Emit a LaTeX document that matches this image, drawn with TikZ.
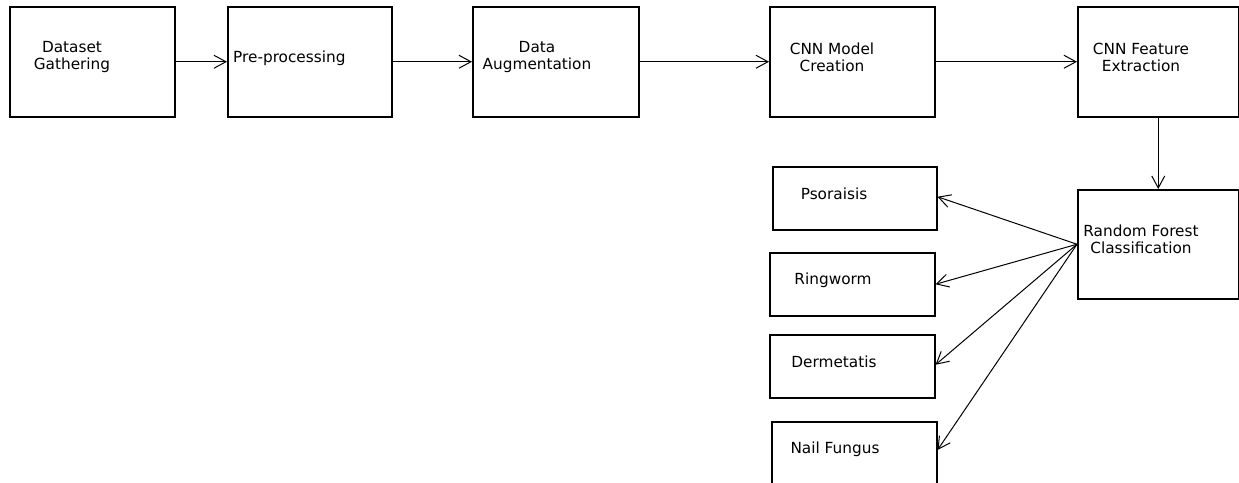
\documentclass[tikz,border=0pt]{standalone}
\usepackage{fontspec}
\setmainfont{DejaVu Sans}
\usetikzlibrary{arrows.meta}
\begin{document}
\begin{tikzpicture}[x=1pt,y=-1pt,
  box/.style={draw, line width=1.5pt, anchor=north west, inner sep=0pt},
  lbl/.style={font=\fontsize{15.3}{17}\selectfont, align=center, inner sep=0pt},
  conn/.style={line width=1pt, -{Straight Barb[length=12pt,width=13pt,line width=1pt]}}]
\useasboundingbox (0,0) rectangle (1239,482);
\clip (0,0) rectangle (1239,482);
% top row
\node[box, minimum width=165pt, minimum height=110pt] (b1) at (9,6) {};
\node[box, minimum width=164pt, minimum height=110pt] (b2) at (227,6) {};
\node[box, minimum width=166pt, minimum height=110pt] (b3) at (472,6) {};
\node[box, minimum width=165pt, minimum height=110pt] (b4) at (769,6) {};
\node[box, minimum width=161pt, minimum height=110pt] (b5) at (1077,6) {};
\node[box, minimum width=161pt, minimum height=109pt] (rf) at (1077,189) {};
% outcome boxes
\node[box, minimum width=164pt, minimum height=63pt] (ps) at (772,166) {};
\node[box, minimum width=165pt, minimum height=63pt] (rw) at (769,252) {};
\node[box, minimum width=165pt, minimum height=63pt] (dm) at (769,334) {};
\node[box, minimum width=165pt, minimum height=80pt] (nf) at (771,421) {};
% texts
\node[lbl] (t1) at (72,57) {Dataset\\Gathering};
\node[lbl, anchor=west] (t2) at (233,58) {Pre-processing};
\node[lbl] (t3) at (537,57) {Data\\Augmentation};
\node[lbl] (t4) at (832,57) {CNN Model\\Creation};
\node[lbl] (t5) at (1141,57) {CNN Feature\\Extraction};
\node[lbl] (t6) at (1141,239) {Random Forest\\Classification};
\node[lbl] (t7) at (834,194) {Psoraisis};
\node[lbl] (t8) at (833,280) {Ringworm};
\node[lbl] (t9) at (834,362) {Dermetatis};
\node[lbl] (t10) at (835,449) {Nail Fungus};
% connectors
\draw[conn] (b1.east) -- (b2.west);
\draw[conn] (b2.east) -- (b3.west);
\draw[conn] (b3.east) -- (b4.west);
\draw[conn] (b4.east) -- (b5.west);
\draw[conn] (b5.south) -- (rf.north);
\coordinate (src) at (rf.west);
\draw[conn] (src) -- ([yshift=1.5pt]ps.east);
\draw[conn] (src) -- (rw.east);
\draw[conn] (src) -- ([yshift=1.5pt]dm.east);
\draw[conn] (src) -- ([yshift=-29pt]nf.north east);
\end{tikzpicture}
\end{document}
